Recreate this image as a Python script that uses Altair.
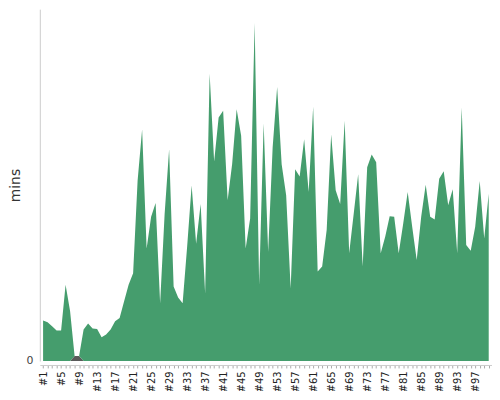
import altair as alt
import pandas as pd

runs = [f"#{i}" for i in range(1, 101)]

ok_mins = [
    6.90, 6.61, 5.93, 5.20, 5.20, 13.00, 8.47, 0.00, 0.00, 5.37,
    6.39, 5.54, 5.47, 4.07, 4.53, 5.37, 6.78, 7.34, 10.17, 13.00,
    14.97, 30.80, 39.49, 19.20, 24.58, 26.95, 9.83, 25.08, 36.10, 12.71,
    10.85, 9.83, 19.49, 29.95, 20.00, 26.78, 11.53, 48.98, 34.02, 41.53,
    42.66, 27.41, 33.61, 42.93, 38.42, 19.20, 24.29, 57.63, 13.00, 40.51,
    18.64, 36.44, 46.73, 33.56, 28.25, 12.37, 32.71, 31.47, 37.80, 28.81,
    43.34, 15.25, 16.10, 22.32, 38.64, 29.10, 26.78, 40.97, 18.36, 25.08,
    31.86, 16.10, 33.05, 35.20, 33.90, 18.36, 21.19, 24.69, 24.58, 18.36,
    23.39, 28.81, 22.88, 17.24, 24.58, 30.05, 24.58, 24.12, 31.07, 32.37,
    26.56, 29.27, 18.36, 43.22, 19.78, 18.81, 22.88, 30.68, 20.90, 28.53,
]

failed_mins = [
    0, 0, 0, 0, 0, 0, 0, 0.85, 0.85, 0,
    0, 0, 0, 0, 0, 0, 0, 0, 0, 0,
    0, 0, 0, 0, 0, 0, 0, 0, 0, 0,
    0, 0, 0, 0, 0, 0, 0, 0, 0, 0,
    0, 0, 0, 0, 0, 0, 0, 0, 0, 0,
    0, 0, 0, 0, 0, 0, 0, 0, 0, 0,
    0, 0, 0, 0, 0, 0, 0, 0, 0, 0,
    0, 0, 0, 0, 0, 0, 0, 0, 0, 0,
    0, 0, 0, 0, 0, 0, 0, 0, 0, 0,
    0, 0, 0, 0, 0, 0, 0, 0, 0, 0,
]

series_names = ["failed", "passed"]
series_colors = ["#5a5a5a", "#459d6d"]

rows = []
for i, r in enumerate(runs):
    rows.append({"run": r, "series": "failed", "ord": 0, "mins": failed_mins[i]})
    rows.append({"run": r, "series": "passed", "ord": 1, "mins": ok_mins[i]})
df = pd.DataFrame(rows)

chart = alt.Chart(df).mark_area(interpolate="linear", opacity=1).encode(
    x=alt.X(
        "run:N",
        sort=runs,
        scale=alt.Scale(type="point", padding=0.73),
        axis=alt.Axis(
            title=None,
            labelAngle=-90,
            labelFontSize=10,
            labelFont="DejaVu Sans",
            labelColor="#222",
            labelPadding=3,
            labelExpr="(toNumber(slice(datum.label, 1)) - 1) % 4 == 0 ? datum.label : ''",
            labelOverlap=False,
            tickSize=3,
            tickColor="#aaa",
            domainColor="#ccc",
            offset=4,
            grid=False,
        ),
    ),
    y=alt.Y(
        "mins:Q",
        stack="zero",
        scale=alt.Scale(domain=[0, 60], nice=False),
        axis=alt.Axis(
            title="mins",
            titleFont="DejaVu Sans",
            titleFontSize=14,
            titleFontWeight="normal",
            titleColor="#333",
            titlePadding=3,
            values=[0],
            ticks=False,
            labelPadding=7,
            labelFontSize=11,
            labelFont="DejaVu Sans",
            labelColor="#444",
            domainColor="#ccc",
            grid=False,
        ),
    ),
    color=alt.Color(
        "series:N",
        scale=alt.Scale(domain=series_names, range=series_colors),
        legend=None,
    ),
    order=alt.Order("ord:Q"),
).properties(
    width=455,
    height=354,
    autosize=alt.AutoSizeParams(type="none"),
    padding={"left": 32, "top": 0, "right": 0, "bottom": 29},
).configure_view(stroke=None)

chart.save("out.html", embed_options={"renderer": "svg", "actions": False})
